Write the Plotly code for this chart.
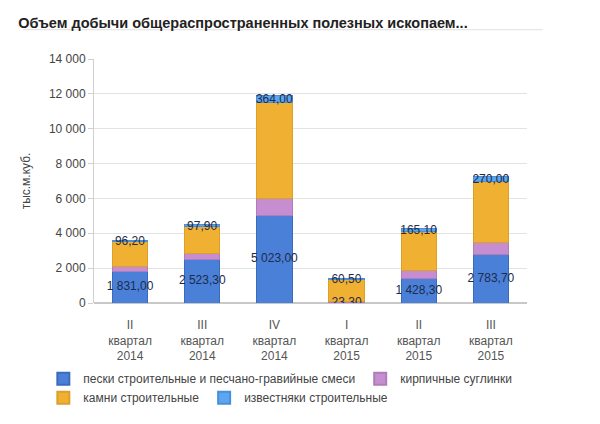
import plotly.graph_objects as go

# квартальные объёмы добычи, тыс.м.куб.
quarters = ['II<br>квартал<br>2014', 'III<br>квартал<br>2014', 'IV<br>квартал<br>2014',
            'I<br>квартал<br>2015', 'II<br>квартал<br>2015', 'III<br>квартал<br>2015']

peski = [1831.0, 2523.3, 5023.0, 23.3, 1428.3, 2783.7]
suglinki = [250, 330, 950, 40, 440, 700]
kamni = [1430, 1530, 5560, 1290, 2250, 3490]
izvestnyaki = [96.2, 97.9, 364.0, 60.5, 165.1, 270.0]


def fmt(v):
    s = f'{v:,.2f}'
    return s.replace(',', ' ').replace('.', ',')


FONT = 'Liberation Sans, Arial, sans-serif'
lbl_font = dict(family=FONT, size=12, color='#1f2b4a')

fig = go.Figure()
fig.add_trace(go.Bar(x=quarters, y=peski, name='пески строительные и песчано-гравийные смеси',
                     marker=dict(color='#4a80d8', line=dict(color='#3b6bbb', width=1)),
                     legend='legend'))
fig.add_trace(go.Bar(x=quarters, y=suglinki, name='кирпичные суглинки',
                     marker=dict(color='#c68ed0', line=dict(color='#b07cbb', width=1)),
                     legend='legend'))
fig.add_trace(go.Bar(x=quarters, y=kamni, name='камни строительные',
                     marker=dict(color='#f0b132', line=dict(color='#dca02a', width=1)),
                     legend='legend2'))
fig.add_trace(go.Bar(x=quarters, y=izvestnyaki, name='известняки строительные',
                     marker=dict(color='#5aa6f0', line=dict(color='#4a8fd8', width=1)),
                     text=[fmt(v) for v in izvestnyaki], textposition='inside', textangle=0,
                     insidetextanchor='middle', constraintext='none', textfont=lbl_font,
                     legend='legend2'))
# подписи нижнего ряда - по центру синего столбика (у I кв. 2015 он почти нулевой)
fig.add_trace(go.Scatter(x=quarters, y=[v / 2 for v in peski], mode='text',
                         text=[fmt(v) for v in peski], textfont=lbl_font,
                         showlegend=False, hoverinfo='skip'))

leg = dict(orientation='h', xanchor='left', yanchor='middle', traceorder='normal',
           font=dict(size=12, color='#444', family=FONT), itemsizing='constant',
           bgcolor='rgba(0,0,0,0)')

# страница рисуется с отступом body 8px, поэтому поля слева/сверху меньше на 8
fig.update_layout(
    width=600, height=424,
    barmode='stack', bargap=0.51,
    separators=', ',
    paper_bgcolor='white', plot_bgcolor='white',
    font=dict(family=FONT, size=12, color='#555'),
    margin=dict(l=86, r=81, t=51, b=129, autoexpand=False),
    title=dict(text='<b>Объем добычи общераспространенных полезных ископаем...</b>',
               x=0.017, xanchor='left', y=0.976, yanchor='top',
               font=dict(size=14.5, color='#222', family=FONT)),
    xaxis=dict(showgrid=False, ticks='', showline=False, ticklabelstandoff=13,
               automargin=False, tickfont=dict(size=12, color='#555')),
    yaxis=dict(range=[0, 14000], dtick=2000, tickformat=',d', automargin=False,
               showgrid=True, gridcolor='#e3e3e3', gridwidth=1,
               showline=True, linecolor='#d0d0d0', ticks='outside', ticklen=5,
               tickcolor='#d0d0d0', zeroline=True, zerolinecolor='#c8c8c8',
               tickfont=dict(size=12, color='#444'),
               title=dict(text='тыс.м.куб.', font=dict(size=12, color='#444'))),
    legend=dict(leg, x=-0.117, y=-0.31),
    legend2=dict(leg, x=-0.117, y=-0.388),
    shapes=[dict(type='line', xref='paper', yref='paper', x0=-0.164, x1=1.036,
                 y0=1.12, y1=1.12, line=dict(color='#e0e0e0', width=1))],
)

fig.write_html('out.html')
